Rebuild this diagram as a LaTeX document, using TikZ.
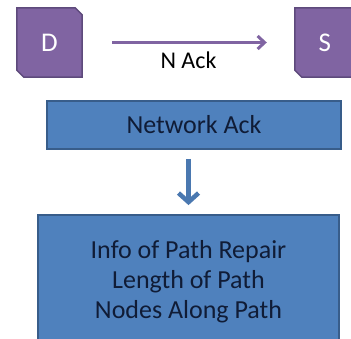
\documentclass[tikz,border=0pt]{standalone}
\usepackage{fontspec}
\setmainfont{Carlito}
\usetikzlibrary{arrows.meta,backgrounds}
\definecolor{nodefill}{HTML}{8064A2}
\definecolor{nodeline}{HTML}{5E4A7C}
\definecolor{boxfill}{HTML}{4F81BD}
\definecolor{boxline}{HTML}{385D8A}
\definecolor{boxtext}{HTML}{101C36}
\definecolor{downarrow}{HTML}{4A78B0}
\tikzset{
  endpoint/.style={rectangle, minimum width=65pt, minimum height=69pt, inner sep=0pt,
    text=white, font=\fontsize{27}{32}\selectfont},
  endpointbody/.style={fill=nodefill, draw=nodeline, line width=1.5pt, line join=miter},
  infobox/.style={rectangle, fill=boxfill, draw=boxline, line width=1.8pt, inner sep=0pt,
    text=boxtext, align=center, font=\fontsize{26}{30}\selectfont},
}
\begin{document}
\begin{tikzpicture}[x=1pt,y=-1pt]
  \clip (0,0) rectangle (351,339);
  % source and destination
  \node[endpoint] (d) at (49.5,42.5) {D};
  \node[endpoint, minimum width=90pt, text width=65pt, align=left] (s) at (340,42.5) {\hspace*{11pt}S};
  % white page, then the bodies: squares with two opposite corners snipped off
  \begin{scope}[on background layer]
    \fill[white] (0,0) rectangle (351,339);
    \foreach \n in {d,s}
      \draw[endpointbody] (\n.north west) -- ([xshift=-7pt]\n.north east)
        -- ([yshift=-7pt]\n.north east) -- (\n.south east)
        -- ([xshift=7pt]\n.south west) -- ([yshift=7pt]\n.south west) -- cycle;
  \end{scope}
  % acknowledgement flow between them
  \draw[nodefill, line width=3.5pt, -{Straight Barb[length=7pt,width=13pt,line width=3pt]},
        shorten <=30pt, shorten >=28pt] (d) -- node[below=4pt, text=black, font=\fontsize{24}{28}\selectfont] (lbl) {N Ack} (d -| s.west);
  % packet boxes
  \node[infobox, minimum width=294pt, minimum height=48pt] (nack) at (194,125) {Network Ack};
  \node[infobox, minimum width=301pt, minimum height=134pt] (info) at (188.5,282)
       {Info of Path Repair\\Length of Path\\Nodes Along Path};
  \draw[downarrow, line width=5pt, -{Straight Barb[length=9pt,width=20pt,line width=4.5pt]},
        shorten <=9pt, shorten >=9pt] (nack.south -| info.north) -- (info.north);
\end{tikzpicture}
\end{document}
